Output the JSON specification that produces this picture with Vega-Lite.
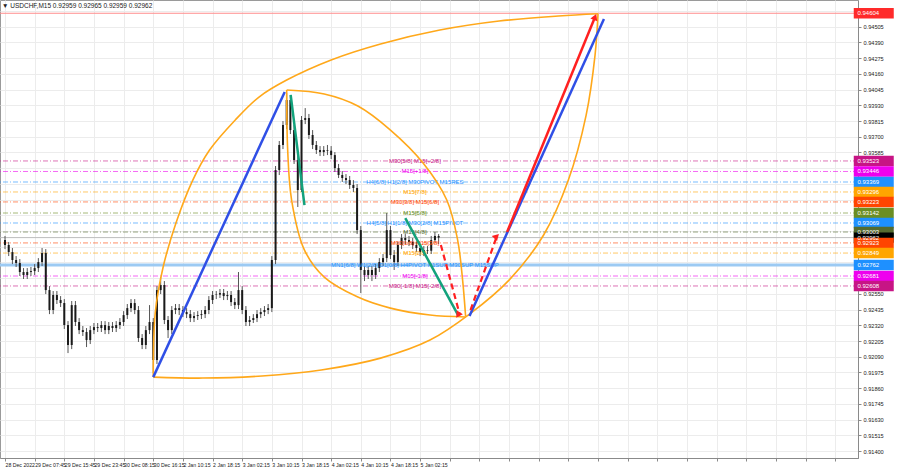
{
  "$schema": "https://vega.github.io/schema/vega-lite/v6.json",
  "width": 858,
  "height": 458,
  "autosize": {"type": "none"},
  "padding": {"left": 0, "top": 0, "right": 42, "bottom": 10},
  "background": "#ffffff",
  "config": {
    "view": {"stroke": "#9a9a9a", "strokeWidth": 1},
    "font": "Liberation Sans",
    "axis": {"labelFont": "Liberation Sans", "labelFontSize": 6, "labelColor": "#222222", "gridColor": "#ececec", "gridWidth": 1, "domainColor": "#8a8a8a", "tickColor": "#8a8a8a", "tickSize": 3, "title": null}
  },
  "title": {"text": "▼ USDCHF,M15  0.92959 0.92965 0.92959 0.92962", "anchor": "start", "frame": "group", "offset": -9, "fontSize": 6.5, "fontWeight": "normal", "font": "Liberation Sans", "color": "#222222", "dx": 2},
  "datasets": {
    "bars": [
      {"t":0,"o":0.92944,"h":0.92974,"l":0.92878,"c":0.92908},
      {"t":1,"o":0.92908,"h":0.92930,"l":0.92827,"c":0.92856},
      {"t":2,"o":0.92856,"h":0.92886,"l":0.92768,"c":0.92798},
      {"t":3,"o":0.92798,"h":0.92827,"l":0.92747,"c":0.92776},
      {"t":4,"o":0.92776,"h":0.92805,"l":0.92681,"c":0.92710},
      {"t":5,"o":0.92710,"h":0.92739,"l":0.92659,"c":0.92688},
      {"t":6,"o":0.92688,"h":0.92739,"l":0.92659,"c":0.92710},
      {"t":7,"o":0.92710,"h":0.92747,"l":0.92681,"c":0.92717},
      {"t":8,"o":0.92717,"h":0.92768,"l":0.92688,"c":0.92739},
      {"t":9,"o":0.92739,"h":0.92812,"l":0.92710,"c":0.92783},
      {"t":10,"o":0.92783,"h":0.92886,"l":0.92754,"c":0.92849},
      {"t":11,"o":0.92849,"h":0.92878,"l":0.92549,"c":0.92578},
      {"t":12,"o":0.92578,"h":0.92607,"l":0.92402,"c":0.92432},
      {"t":13,"o":0.92432,"h":0.92571,"l":0.92402,"c":0.92542},
      {"t":14,"o":0.92542,"h":0.92571,"l":0.92476,"c":0.92505},
      {"t":15,"o":0.92505,"h":0.92534,"l":0.92454,"c":0.92483},
      {"t":16,"o":0.92483,"h":0.92512,"l":0.92293,"c":0.92322},
      {"t":17,"o":0.92322,"h":0.92351,"l":0.92117,"c":0.92176},
      {"t":18,"o":0.92176,"h":0.92498,"l":0.92146,"c":0.92468},
      {"t":19,"o":0.92468,"h":0.92498,"l":0.92315,"c":0.92344},
      {"t":20,"o":0.92344,"h":0.92373,"l":0.92256,"c":0.92285},
      {"t":21,"o":0.92285,"h":0.92315,"l":0.92242,"c":0.92271},
      {"t":22,"o":0.92271,"h":0.92300,"l":0.92161,"c":0.92212},
      {"t":23,"o":0.92212,"h":0.92315,"l":0.92183,"c":0.92285},
      {"t":24,"o":0.92285,"h":0.92337,"l":0.92256,"c":0.92307},
      {"t":25,"o":0.92307,"h":0.92337,"l":0.92271,"c":0.92300},
      {"t":26,"o":0.92300,"h":0.92351,"l":0.92271,"c":0.92322},
      {"t":27,"o":0.92322,"h":0.92351,"l":0.92256,"c":0.92285},
      {"t":28,"o":0.92285,"h":0.92344,"l":0.92256,"c":0.92315},
      {"t":29,"o":0.92315,"h":0.92344,"l":0.92271,"c":0.92300},
      {"t":30,"o":0.92300,"h":0.92351,"l":0.92271,"c":0.92322},
      {"t":31,"o":0.92322,"h":0.92373,"l":0.92293,"c":0.92344},
      {"t":32,"o":0.92344,"h":0.92424,"l":0.92315,"c":0.92395},
      {"t":33,"o":0.92395,"h":0.92476,"l":0.92366,"c":0.92446},
      {"t":34,"o":0.92446,"h":0.92512,"l":0.92417,"c":0.92483},
      {"t":35,"o":0.92483,"h":0.92512,"l":0.92402,"c":0.92432},
      {"t":36,"o":0.92432,"h":0.92461,"l":0.92198,"c":0.92227},
      {"t":37,"o":0.92227,"h":0.92256,"l":0.92146,"c":0.92176},
      {"t":38,"o":0.92176,"h":0.92315,"l":0.92146,"c":0.92285},
      {"t":39,"o":0.92285,"h":0.92468,"l":0.92256,"c":0.92344},
      {"t":40,"o":0.92344,"h":0.92373,"l":0.91971,"c":0.92066},
      {"t":41,"o":0.92066,"h":0.92607,"l":0.92037,"c":0.92578},
      {"t":42,"o":0.92578,"h":0.92673,"l":0.92549,"c":0.92615},
      {"t":43,"o":0.92615,"h":0.92644,"l":0.92329,"c":0.92359},
      {"t":44,"o":0.92359,"h":0.92388,"l":0.92227,"c":0.92285},
      {"t":45,"o":0.92285,"h":0.92461,"l":0.92256,"c":0.92432},
      {"t":46,"o":0.92432,"h":0.92476,"l":0.92402,"c":0.92446},
      {"t":47,"o":0.92446,"h":0.92476,"l":0.92395,"c":0.92432},
      {"t":48,"o":0.92432,"h":0.92461,"l":0.92381,"c":0.92417},
      {"t":49,"o":0.92417,"h":0.92446,"l":0.92373,"c":0.92402},
      {"t":50,"o":0.92402,"h":0.92432,"l":0.92344,"c":0.92373},
      {"t":51,"o":0.92373,"h":0.92417,"l":0.92344,"c":0.92388},
      {"t":52,"o":0.92388,"h":0.92424,"l":0.92359,"c":0.92395},
      {"t":53,"o":0.92395,"h":0.92432,"l":0.92366,"c":0.92402},
      {"t":54,"o":0.92402,"h":0.92461,"l":0.92373,"c":0.92432},
      {"t":55,"o":0.92432,"h":0.92534,"l":0.92402,"c":0.92505},
      {"t":56,"o":0.92505,"h":0.92571,"l":0.92476,"c":0.92542},
      {"t":57,"o":0.92542,"h":0.92571,"l":0.92512,"c":0.92545},
      {"t":58,"o":0.92545,"h":0.92586,"l":0.92520,"c":0.92556},
      {"t":59,"o":0.92556,"h":0.92586,"l":0.92505,"c":0.92534},
      {"t":60,"o":0.92534,"h":0.92571,"l":0.92505,"c":0.92542},
      {"t":61,"o":0.92542,"h":0.92571,"l":0.92461,"c":0.92490},
      {"t":62,"o":0.92490,"h":0.92520,"l":0.92439,"c":0.92468},
      {"t":63,"o":0.92468,"h":0.92710,"l":0.92439,"c":0.92578},
      {"t":64,"o":0.92578,"h":0.92607,"l":0.92402,"c":0.92432},
      {"t":65,"o":0.92432,"h":0.92461,"l":0.92315,"c":0.92344},
      {"t":66,"o":0.92344,"h":0.92388,"l":0.92315,"c":0.92359},
      {"t":67,"o":0.92359,"h":0.92402,"l":0.92337,"c":0.92373},
      {"t":68,"o":0.92373,"h":0.92432,"l":0.92344,"c":0.92402},
      {"t":69,"o":0.92402,"h":0.92446,"l":0.92373,"c":0.92417},
      {"t":70,"o":0.92417,"h":0.92461,"l":0.92388,"c":0.92432},
      {"t":71,"o":0.92432,"h":0.92476,"l":0.92402,"c":0.92446},
      {"t":72,"o":0.92446,"h":0.92827,"l":0.92417,"c":0.92798},
      {"t":73,"o":0.92798,"h":0.93486,"l":0.92768,"c":0.93457},
      {"t":74,"o":0.93457,"h":0.93669,"l":0.93420,"c":0.93640},
      {"t":75,"o":0.93640,"h":0.93815,"l":0.93610,"c":0.93786},
      {"t":76,"o":0.93786,"h":0.94020,"l":0.93757,"c":0.93969},
      {"t":77,"o":0.93969,"h":0.93998,"l":0.93720,"c":0.93749},
      {"t":78,"o":0.93749,"h":0.93786,"l":0.93501,"c":0.93530},
      {"t":79,"o":0.93530,"h":0.93559,"l":0.93186,"c":0.93310},
      {"t":80,"o":0.93310,"h":0.93852,"l":0.93296,"c":0.93823},
      {"t":81,"o":0.93823,"h":0.93910,"l":0.93793,"c":0.93837},
      {"t":82,"o":0.93837,"h":0.93867,"l":0.93684,"c":0.93713},
      {"t":83,"o":0.93713,"h":0.93749,"l":0.93610,"c":0.93640},
      {"t":84,"o":0.93640,"h":0.93669,"l":0.93574,"c":0.93603},
      {"t":85,"o":0.93603,"h":0.93632,"l":0.93559,"c":0.93588},
      {"t":86,"o":0.93588,"h":0.93632,"l":0.93559,"c":0.93603},
      {"t":87,"o":0.93603,"h":0.93640,"l":0.93566,"c":0.93598},
      {"t":88,"o":0.93598,"h":0.93632,"l":0.93537,"c":0.93566},
      {"t":89,"o":0.93566,"h":0.93588,"l":0.93442,"c":0.93471},
      {"t":90,"o":0.93471,"h":0.93501,"l":0.93398,"c":0.93420},
      {"t":91,"o":0.93420,"h":0.93449,"l":0.93369,"c":0.93398},
      {"t":92,"o":0.93398,"h":0.93427,"l":0.93354,"c":0.93383},
      {"t":93,"o":0.93383,"h":0.93413,"l":0.93318,"c":0.93347},
      {"t":94,"o":0.93347,"h":0.93383,"l":0.93296,"c":0.93325},
      {"t":95,"o":0.93325,"h":0.93354,"l":0.92988,"c":0.93017},
      {"t":96,"o":0.93017,"h":0.93047,"l":0.92556,"c":0.92725},
      {"t":97,"o":0.92725,"h":0.92754,"l":0.92644,"c":0.92688},
      {"t":98,"o":0.92688,"h":0.92754,"l":0.92659,"c":0.92725},
      {"t":99,"o":0.92725,"h":0.92754,"l":0.92644,"c":0.92688},
      {"t":100,"o":0.92688,"h":0.92768,"l":0.92659,"c":0.92739},
      {"t":101,"o":0.92739,"h":0.92812,"l":0.92710,"c":0.92783},
      {"t":102,"o":0.92783,"h":0.92842,"l":0.92754,"c":0.92812},
      {"t":103,"o":0.92812,"h":0.93142,"l":0.92783,"c":0.93017},
      {"t":104,"o":0.93017,"h":0.93047,"l":0.92805,"c":0.92834},
      {"t":105,"o":0.92834,"h":0.92871,"l":0.92725,"c":0.92783},
      {"t":106,"o":0.92783,"h":0.92930,"l":0.92754,"c":0.92908},
      {"t":107,"o":0.92908,"h":0.92988,"l":0.92878,"c":0.92959},
      {"t":108,"o":0.92959,"h":0.92988,"l":0.92915,"c":0.92944},
      {"t":109,"o":0.92944,"h":0.92974,"l":0.92900,"c":0.92930},
      {"t":110,"o":0.92930,"h":0.92959,"l":0.92878,"c":0.92908},
      {"t":111,"o":0.92908,"h":0.92930,"l":0.92856,"c":0.92886},
      {"t":112,"o":0.92886,"h":0.92915,"l":0.92827,"c":0.92856},
      {"t":113,"o":0.92856,"h":0.92900,"l":0.92827,"c":0.92871},
      {"t":114,"o":0.92871,"h":0.92900,"l":0.92842,"c":0.92866},
      {"t":115,"o":0.92866,"h":0.92974,"l":0.92842,"c":0.92944},
      {"t":116,"o":0.92944,"h":0.93003,"l":0.92930,"c":0.92974},
      {"t":117,"o":0.92974,"h":0.92988,"l":0.92915,"c":0.92962}
    ],
    "levels": [
      {"id":"TOP","p":0.94604,"label":""},
      {"id":"M30+2","p":0.93523,"label":"M30[5/8] M15[+2/8]"},
      {"id":"M15+1","p":0.93446,"label":"M15[+1/8]"},
      {"id":"H4-6","p":0.93369,"label":"H4[6/8] H1[2/8] M30PIVOT M15RES"},
      {"id":"M15-7","p":0.93296,"label":"M15[7/8]"},
      {"id":"M30-3","p":0.93223,"label":"M30[3/8] M15[6/8]"},
      {"id":"M15-5","p":0.93142,"label":"M15[5/8]"},
      {"id":"H4-5","p":0.93069,"label":"H4[5/8] H1[1/8] M30[2/8] M15PIVOT"},
      {"id":"M15-4","p":0.93003,"label":"M15[4/8]"},
      {"id":"BID","p":0.92962,"label":""},
      {"id":"M30-1","p":0.92923,"label":"M30[1/8] M15[3/8]"},
      {"id":"M15-2","p":0.92849,"label":"M15[2/8]"},
      {"id":"MN1","p":0.92762,"label":"MN1[6/8] W1[2/8] D1[0/8] H4PIVOT H1SUP M30SUP M15SUP"},
      {"id":"M15m1","p":0.92681,"label":"M15[-1/8]"},
      {"id":"M30m1","p":0.92608,"label":"M30[-1/8] M15[-2/8]"}
    ],
    "curves": [
      {"curve":"outerTop","k":0,"t":40,"p":0.91941},
      {"curve":"outerTop","k":1,"t":40.53,"p":0.92410},
      {"curve":"outerTop","k":2,"t":42.67,"p":0.92747},
      {"curve":"outerTop","k":3,"t":46.13,"p":0.93069},
      {"curve":"outerTop","k":4,"t":50.67,"p":0.93383},
      {"curve":"outerTop","k":5,"t":55.2,"p":0.93603},
      {"curve":"outerTop","k":6,"t":62.13,"p":0.93823},
      {"curve":"outerTop","k":7,"t":68.53,"p":0.93991},
      {"curve":"outerTop","k":8,"t":76,"p":0.94115},
      {"curve":"outerTop","k":9,"t":88,"p":0.94262},
      {"curve":"outerTop","k":10,"t":101.33,"p":0.94379},
      {"curve":"outerTop","k":11,"t":117.33,"p":0.94481},
      {"curve":"outerTop","k":12,"t":133.33,"p":0.94547},
      {"curve":"outerTop","k":13,"t":149.33,"p":0.94584},
      {"curve":"outerTop","k":14,"t":160,"p":0.94600},
      {"curve":"outerBottom","k":0,"t":40,"p":0.91941},
      {"curve":"outerBottom","k":1,"t":53.33,"p":0.91934},
      {"curve":"outerBottom","k":2,"t":69.33,"p":0.91949},
      {"curve":"outerBottom","k":3,"t":85.33,"p":0.91993},
      {"curve":"outerBottom","k":4,"t":101.33,"p":0.92080},
      {"curve":"outerBottom","k":5,"t":114.67,"p":0.92212},
      {"curve":"outerBottom","k":6,"t":125.33,"p":0.92402},
      {"curve":"outerBottom","k":7,"t":136,"p":0.92651},
      {"curve":"outerBottom","k":8,"t":145.33,"p":0.92981},
      {"curve":"outerBottom","k":9,"t":152,"p":0.93383},
      {"curve":"outerBottom","k":10,"t":156.8,"p":0.93859},
      {"curve":"outerBottom","k":11,"t":159.2,"p":0.94298},
      {"curve":"outerBottom","k":12,"t":160,"p":0.94600},
      {"curve":"innerRight","k":0,"t":76,"p":0.94042},
      {"curve":"innerRight","k":1,"t":86.13,"p":0.94013},
      {"curve":"innerRight","k":2,"t":95.2,"p":0.93925},
      {"curve":"innerRight","k":3,"t":104,"p":0.93749},
      {"curve":"innerRight","k":4,"t":112.8,"p":0.93508},
      {"curve":"innerRight","k":5,"t":119.2,"p":0.93237},
      {"curve":"innerRight","k":6,"t":122.13,"p":0.92944},
      {"curve":"innerRight","k":7,"t":123.47,"p":0.92651},
      {"curve":"innerRight","k":8,"t":124.27,"p":0.92388},
      {"curve":"innerLeft","k":0,"t":76,"p":0.94042},
      {"curve":"innerLeft","k":1,"t":76.27,"p":0.93603},
      {"curve":"innerLeft","k":2,"t":77.33,"p":0.93237},
      {"curve":"innerLeft","k":3,"t":80.8,"p":0.92871},
      {"curve":"innerLeft","k":4,"t":86.13,"p":0.92673},
      {"curve":"innerLeft","k":5,"t":95.2,"p":0.92527},
      {"curve":"innerLeft","k":6,"t":104,"p":0.92446},
      {"curve":"innerLeft","k":7,"t":114.67,"p":0.92395},
      {"curve":"innerLeft","k":8,"t":124.27,"p":0.92381}
    ],
    "segs": [
      {"seg":"b1","grp":"impulse","k":0,"t":40,"p":0.91941},
      {"seg":"b1","grp":"impulse","k":1,"t":75.47,"p":0.94028},
      {"seg":"b2","grp":"impulse","k":0,"t":125.33,"p":0.92388},
      {"seg":"b2","grp":"impulse","k":1,"t":161.6,"p":0.94562},
      {"seg":"g1","grp":"correction","k":0,"t":77.07,"p":0.94006},
      {"seg":"g1","grp":"correction","k":1,"t":80.8,"p":0.93200},
      {"seg":"g2","grp":"correction","k":0,"t":108,"p":0.93105},
      {"seg":"g2","grp":"correction","k":1,"t":122.4,"p":0.92388},
      {"seg":"r1","grp":"target","k":0,"t":135.47,"p":0.93003},
      {"seg":"r1","grp":"target","k":1,"t":159.2,"p":0.94577},
      {"seg":"d1","grp":"path","k":0,"t":117.6,"p":0.92908},
      {"seg":"d1","grp":"path","k":1,"t":122.67,"p":0.92402},
      {"seg":"d2","grp":"path","k":0,"t":125.6,"p":0.92432},
      {"seg":"d2","grp":"path","k":1,"t":132.53,"p":0.92959}
    ],
    "heads": [
      {"seg":"r1","t":159.2,"p":0.94577},
      {"seg":"d1","t":122.67,"p":0.92402},
      {"seg":"d2","t":132.53,"p":0.92959}
    ]
  },
  "encoding": {
    "x": {"field": "t", "type": "quantitative", "scale": {"domain": [0, 228.8], "nice": false, "zero": false},
      "axis": {"orient": "bottom", "values": [0,8,16,24,32,40,48,56,64,72,80,88,96,104,112,120,128,136,144,152,160,168,176,184,192,200,208,216,224],
        "labelExpr": "['28 Dec 2022','29 Dec 07:45','29 Dec 15:45','29 Dec 23:45','30 Dec 08:15','30 Dec 16:15','2 Jan 10:15','2 Jan 18:15','3 Jan 02:15','3 Jan 10:15','3 Jan 18:15','4 Jan 02:15','4 Jan 10:15','4 Jan 18:15','5 Jan 02:15'][datum.value / 8] || ''",
        "labelAlign": "left", "labelFontSize": 5.2, "labelPadding": 1, "labelOverlap": false, "labelFlush": false, "grid": true}},
    "y": {"field": "p", "type": "quantitative", "scale": {"domain": [0.91349, 0.94701], "nice": false, "zero": false},
      "axis": {"orient": "right", "values": [0.914,0.91515,0.9163,0.91745,0.9186,0.91975,0.9209,0.92205,0.9232,0.92435,0.9255,0.92665,0.9278,0.92895,0.9301,0.93125,0.9324,0.93355,0.9347,0.93585,0.937,0.93815,0.9393,0.94045,0.9416,0.94275,0.9439,0.94505,0.9462],
        "labelExpr": "(datum.value > 0.9260 && datum.value < 0.9352) ? '' : format(datum.value, '.5f')",
        "labelFontSize": 5.6, "labelPadding": 2, "labelOverlap": false, "labelFlush": false, "grid": true}}
  },
  "layer": [
    {
      "data": {"name": "levels"},
      "transform": [{"filter": "datum.id !== 'TOP' && datum.id !== 'BID' && datum.id !== 'MN1'"}],
      "mark": {"type": "rule", "strokeWidth": 1, "strokeDash": [5, 2, 1, 2], "opacity": 0.6},
      "encoding": {"x": null, "color": {"field": "id", "type": "nominal", "legend": null,
        "scale": {"domain": ["M30+2","M15+1","H4-6","M15-7","M30-3","M15-5","H4-5","M15-4","BID","M30-1","M15-2","MN1","M15m1","M30m1","TOP"],
                  "range": ["#c71585","#ee00ee","#1e90ff","#ffa500","#ff4500","#6b8e23","#1e90ff","#556b2f","#000000","#ff4500","#ffa500","#1e90ff","#ee00ee","#c71585","#ff2a2a"]}}}
    },
    {
      "data": {"name": "levels"},
      "transform": [{"filter": "datum.id === 'TOP'"}],
      "mark": {"type": "rule", "strokeWidth": 1, "color": "#ff8c8c"},
      "encoding": {"x": null}
    },
    {
      "data": {"name": "levels"},
      "transform": [{"filter": "datum.id === 'MN1'"}],
      "mark": {"type": "rule", "strokeWidth": 3, "color": "#9ccaf3"},
      "encoding": {"x": null}
    },
    {
      "data": {"name": "levels"},
      "transform": [{"filter": "datum.id === 'BID'"}],
      "mark": {"type": "rule", "strokeWidth": 1, "color": "#bdbdbd"},
      "encoding": {"x": null}
    },
    {
      "data": {"name": "bars"},
      "mark": {"type": "rule", "strokeWidth": 1, "color": "#555555"},
      "encoding": {"y": {"field": "l", "type": "quantitative"}, "y2": {"field": "h"}}
    },
    {
      "data": {"name": "bars"},
      "mark": {"type": "bar", "size": 2, "color": "#1a1a1a"},
      "encoding": {"y": {"field": "o", "type": "quantitative"}, "y2": {"field": "c"}}
    },
    {
      "data": {"name": "levels"},
      "transform": [{"filter": "datum.label !== ''"}, {"calculate": "110.6", "as": "lx"}],
      "mark": {"type": "text", "fontSize": 6, "font": "Liberation Sans", "align": "center", "baseline": "middle"},
      "encoding": {"x": {"field": "lx", "type": "quantitative"}, "text": {"field": "label", "type": "nominal"}, "color": {"field": "id", "type": "nominal", "legend": null,
        "scale": {"domain": ["M30+2","M15+1","H4-6","M15-7","M30-3","M15-5","H4-5","M15-4","BID","M30-1","M15-2","MN1","M15m1","M30m1","TOP"],
                  "range": ["#c71585","#ee00ee","#1e90ff","#ffa500","#ff4500","#6b8e23","#1e90ff","#556b2f","#000000","#ff4500","#ffa500","#1e90ff","#ee00ee","#c71585","#ff2a2a"]}}}
    },
    {
      "data": {"name": "curves"},
      "mark": {"type": "line", "interpolate": "catmull-rom", "strokeWidth": 1.6, "color": "#ffa81a"},
      "encoding": {"detail": {"field": "curve"}, "order": {"field": "k", "type": "quantitative"}}
    },
    {
      "data": {"name": "segs"},
      "transform": [{"filter": "datum.grp === 'impulse'"}],
      "mark": {"type": "line", "strokeWidth": 2.5, "color": "#2f4fe6"},
      "encoding": {"detail": {"field": "seg"}, "order": {"field": "k", "type": "quantitative"}}
    },
    {
      "data": {"name": "segs"},
      "transform": [{"filter": "datum.grp === 'correction'"}],
      "mark": {"type": "line", "strokeWidth": 2.5, "color": "#13a27c"},
      "encoding": {"detail": {"field": "seg"}, "order": {"field": "k", "type": "quantitative"}}
    },
    {
      "data": {"name": "segs"},
      "transform": [{"filter": "datum.grp === 'target'"}],
      "mark": {"type": "line", "strokeWidth": 2.5, "color": "#ff2020"},
      "encoding": {"detail": {"field": "seg"}, "order": {"field": "k", "type": "quantitative"}}
    },
    {
      "data": {"name": "segs"},
      "transform": [{"filter": "datum.grp === 'path'"}],
      "mark": {"type": "line", "strokeWidth": 2.2, "color": "#ff2020", "strokeDash": [6, 4]},
      "encoding": {"detail": {"field": "seg"}, "order": {"field": "k", "type": "quantitative"}}
    },
    {
      "data": {"name": "heads"},
      "mark": {"type": "point", "shape": "triangle-up", "filled": true, "size": 55, "color": "#ff2020", "opacity": 1},
      "encoding": {"angle": {"field": "seg", "type": "nominal", "legend": null, "scale": {"domain": ["r1","d1","d2"], "range": [22.5, 164.6, 19.9]}}}
    },
    {
      "data": {"name": "levels"},
      "transform": [{"calculate": "234.4", "as": "bx"}],
      "mark": {"type": "point", "shape": "M-1,-0.26H1V0.26H-1Z", "filled": true, "size": 1600, "opacity": 1},
      "encoding": {"x": {"field": "bx", "type": "quantitative"}, "color": {"field": "id", "type": "nominal", "legend": null,
        "scale": {"domain": ["M30+2","M15+1","H4-6","M15-7","M30-3","M15-5","H4-5","M15-4","BID","M30-1","M15-2","MN1","M15m1","M30m1","TOP"],
                  "range": ["#c71585","#ee00ee","#1e90ff","#ffa500","#ff4500","#6b8e23","#1e90ff","#556b2f","#000000","#ff4500","#ffa500","#1e90ff","#ee00ee","#c71585","#ff2a2a"]}}}
    },
    {
      "data": {"name": "levels"},
      "transform": [{"calculate": "230.0", "as": "tx"}],
      "mark": {"type": "text", "fontSize": 6, "font": "Liberation Sans", "align": "left", "baseline": "middle", "color": "#ffffff"},
      "encoding": {"x": {"field": "tx", "type": "quantitative"}, "text": {"field": "p", "type": "quantitative", "format": ".5f"}}
    }
  ]
}
